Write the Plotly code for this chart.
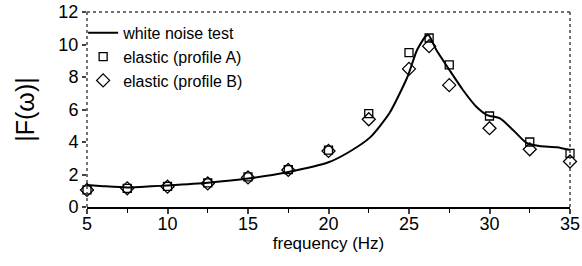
import plotly.graph_objects as go

# white noise test curve
wn_freq = [5, 6, 7.5, 9, 10, 12.5, 15, 17.5, 20, 21.3, 22.6, 23.8, 24.9, 25.5, 26.0, 26.2,
           26.7, 27.5, 28.35, 29.2, 29.85, 30.65, 31.46, 32.3, 33.1, 34.2, 35]
wn_amp = [1.35, 1.28, 1.2, 1.27, 1.33, 1.5, 1.75, 2.15, 2.75, 3.4, 4.3, 5.8, 8.0, 9.66, 10.46, 10.6,
          9.66, 8.45, 7.2, 6.15, 5.66, 5.45, 4.74, 3.94, 3.75, 3.68, 3.5]

# elastic model points
el_freq = [5, 7.5, 10, 12.5, 15, 17.5, 20, 22.5, 25, 26.25, 27.5, 30, 32.5, 35]
prof_a = [1.05, 1.15, 1.27, 1.48, 1.85, 2.3, 3.5, 5.75, 9.5, 10.4, 8.75, 5.6, 4.0, 3.3]
prof_b = [1.05, 1.15, 1.25, 1.45, 1.82, 2.28, 3.45, 5.4, 8.5, 9.9, 7.5, 4.85, 3.55, 2.8]

x_ticks = [5, 10, 15, 20, 25, 30, 35]
y_ticks = [0, 2, 4, 6, 8, 10, 12]

fig = go.Figure()
fig.add_trace(go.Scatter(x=wn_freq, y=wn_amp, mode="lines", name="white noise test",
                         cliponaxis=False,
                         line=dict(color="black", width=2, shape="spline", smoothing=0.6)))
fig.add_trace(go.Scatter(x=el_freq, y=prof_a, mode="markers", name="elastic (profile A)",
                         cliponaxis=False,
                         marker=dict(symbol="square-open", size=8, color="black",
                                     line=dict(width=1.3, color="black"))))
fig.add_trace(go.Scatter(x=el_freq, y=prof_b, mode="markers", name="elastic (profile B)",
                         cliponaxis=False,
                         marker=dict(symbol="diamond-open", size=10, color="black",
                                     line=dict(width=1.3, color="black"))))

font_family = "Liberation Sans, Arial, sans-serif"
fig.update_layout(
    width=582, height=266,
    margin=dict(l=87, r=12, t=12, b=59, autoexpand=False),
    paper_bgcolor="white", plot_bgcolor="white",
    font=dict(family=font_family, size=16, color="black"),
    showlegend=True,
    legend=dict(x=-0.008, y=0.98, xanchor="left", yanchor="top", bgcolor="rgba(0,0,0,0)",
                font=dict(size=16), tracegroupgap=0, itemwidth=30),
    xaxis=dict(range=[5, 35], tickvals=x_ticks, ticks="outside", ticklen=5, tickwidth=1.5,
               showline=True, linecolor="black", linewidth=2, showgrid=False, zeroline=False,
               tickfont=dict(size=18), automargin=False, ticklabelstandoff=-6,
               minor=dict(dtick=2.5, ticks="outside", ticklen=4, tickwidth=1, tickcolor="black"),
               title=dict(text="frequency (Hz)", font=dict(size=17), standoff=0)),
    yaxis=dict(range=[0, 12], tickvals=y_ticks, ticks="outside", ticklen=4, tickwidth=1.5,
               showline=False, showgrid=False, zeroline=False, tickfont=dict(size=18),
               automargin=False,
               title=dict(text="|F(ω)|", font=dict(size=25), standoff=16)),
)
# dotted frame: left, top, right
for x0, y0, x1, y1 in [(0, 0, 0, 1), (0, 1, 1, 1), (1, 0, 1, 1)]:
    fig.add_shape(type="line", xref="paper", yref="paper", x0=x0, y0=y0, x1=x1, y1=y1,
                  line=dict(color="#444444", width=1.5, dash="dot"))

fig.write_html("out.html", config={"displayModeBar": False},
               post_script="document.body.style.margin='0';")
